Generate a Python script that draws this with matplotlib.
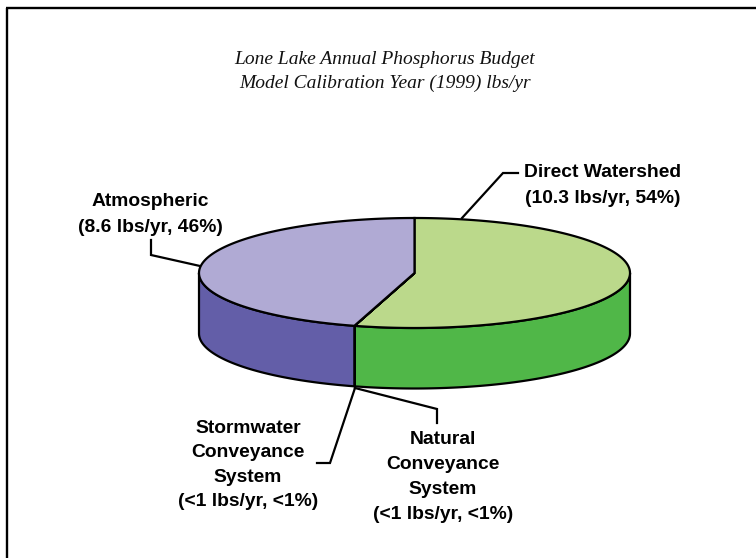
import numpy as np
import matplotlib
matplotlib.use("Agg")
import matplotlib.pyplot as plt

# Data
slice_names = ["Direct Watershed", "Natural Conveyance System",
               "Stormwater Conveyance System", "Atmospheric"]
slice_values = [10.3, 0.001, 0.001, 8.6]
top_colors = ["#BBD98B", "#BBD98B", "#B0AAD4", "#B0AAD4"]
side_colors = ["#50B748", "#50B748", "#635EA8", "#635EA8"]
title_lines = ["Lone Lake Annual Phosphorus Budget",
               "Model Calibration Year (1999) lbs/yr"]
label_texts = ["Direct Watershed\n(10.3 lbs/yr, 54%)",
               "Atmospheric\n(8.6 lbs/yr, 46%)",
               "Stormwater\nConveyance\nSystem\n(<1 lbs/yr, <1%)",
               "Natural\nConveyance\nSystem\n(<1 lbs/yr, <1%)"]
label_pos = [(603, 185.5), (150, 214.5), (248, 465), (443, 477)]
label_spacing = [1.66, 1.66, 1.57, 1.6]
leaders = [[(462, 218), (503, 173), (518, 173)],
           [(200, 266), (151, 255), (151, 240)],
           [(355, 388), (330, 463), (317, 463)],
           [(355, 388), (437, 409), (437, 423)]]

# Pie geometry
CX, CY, RX, RY, DEPTH = 414.5, 273, 215.5, 55, 60.5
LW = 1.6

W, H = 756, 558
fig = plt.figure(figsize=(W / 100, H / 100), dpi=100, facecolor="white")
ax = fig.add_axes([0, 0, 1, 1])
ax.set_xlim(0, W)
ax.set_ylim(H, 0)
ax.axis("off")


def rim(t0, t1, dy=0.0):
    t = np.radians(np.linspace(t0, t1, max(int(abs(t1 - t0) * 2), 2)))
    return CX + RX * np.sin(t), CY - RY * np.cos(t) + dy


edges = np.concatenate([[0], np.cumsum(slice_values)]) / sum(slice_values) * 360

# Side walls (only the front half of the rim is visible)
for a, b, c in zip(edges[:-1], edges[1:], side_colors):
    lo, hi = max(a, 90), min(b, 270)
    if hi <= lo:
        continue
    x1, y1 = rim(lo, hi)
    x2, y2 = rim(hi, lo, DEPTH)
    ax.fill(np.r_[x1, x2], np.r_[y1, y2], facecolor=c, edgecolor="black",
            lw=LW, joinstyle="round", zorder=2)

# Top faces
for a, b, c in zip(edges[:-1], edges[1:], top_colors):
    x, y = rim(a, b)
    ax.fill(np.r_[CX, x], np.r_[CY, y], facecolor=c, edgecolor="black",
            lw=LW, joinstyle="miter", zorder=3)

# Leader lines
for pts in leaders:
    xs, ys = zip(*pts)
    ax.plot(xs, ys, color="black", lw=LW, solid_joinstyle="miter", zorder=4)

# Labels
for s, (x, y), sp in zip(label_texts, label_pos, label_spacing):
    ax.text(x, y, s, ha="center", va="center", family="Liberation Sans",
            weight="bold", fontsize=13.9, linespacing=sp, color="black")

# Title
for s, y in zip(title_lines, [59, 83]):
    ax.text(385, y, s, ha="center", va="center", family="Liberation Serif",
            style="italic", fontsize=14, color="#111111")

# Frame: left and top only
ax.plot([7, 7], [H, 7.5], color="black", lw=1.7, solid_capstyle="butt", zorder=5)
ax.plot([6, W], [7.5, 7.5], color="black", lw=1.7, solid_capstyle="butt", zorder=5)

fig.savefig("out.png", dpi=100, facecolor="white")
